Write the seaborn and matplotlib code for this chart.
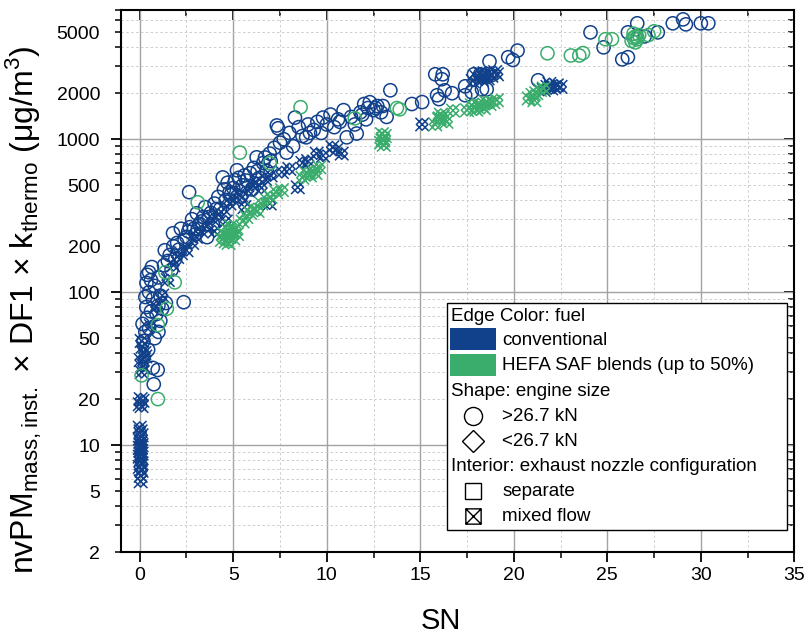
import numpy as np
import pandas as pd
import matplotlib
matplotlib.use("Agg")
import matplotlib.pyplot as plt
from matplotlib.path import Path
from matplotlib.patches import Rectangle
from matplotlib.ticker import FixedLocator, FuncFormatter, NullFormatter
import seaborn as sns

# ---- data (SN, mass concentration in ug/m3) ----
conv_sep_sn = [0.2, 0.3, 0.15, 0.4, 0.5, 0.6, 0.35, 0.7, 0.5, 0.8, 0.3, 0.9, 0.75, 0.96, 0.7,
               0.45, 1.0, 1.1, 0.6, 0.4, 0.36, 0.5, 0.65, 1.0, 1.3, 1.5, 1.34, 1.6, 1.8, 2.0,
               1.78, 2.2, 2.35, 1.1, 1.2, 1.4, 1.0, 0.8,
               2.5, 2.64, 2.67, 2.8, 3.05, 3.2, 3.0, 3.4, 3.6, 3.5, 3.8, 4.0, 3.9, 4.2, 4.44,
               4.3, 4.6, 4.8, 4.7, 5.0, 5.2, 5.1, 5.4, 5.5, 5.7, 5.9, 6.0, 6.25, 6.1, 6.4, 6.6,
               6.95, 6.8, 7.0, 7.33, 7.4, 7.2, 7.5, 7.85, 7.7, 8.0, 8.3, 8.2, 8.5, 8.7, 8.9,
               9.0, 9.3, 9.5, 9.8, 9.7, 10.0, 10.2, 10.4, 10.6, 10.9, 11.07, 11.3, 11.6, 11.5,
               11.8, 12.0, 12.2, 12.3, 12.5, 12.1, 12.7, 12.9, 13.0, 13.4, 13.2,
               4.5, 5.3, 6.3, 3.3, 2.9, 9.1, 10.7, 11.9, 12.6,
               2.1, 2.4, 3.1, 3.7, 4.1, 4.9, 5.6, 6.7, 1.7, 1.9, 2.6,
               14.55, 15.1, 15.8, 16.2, 16.15, 15.9, 16.0, 16.3, 16.7, 17.4, 17.4, 17.75, 17.87,
               18.2, 18.3, 18.55, 18.7, 18.45, 18.8, 19.7, 19.95, 20.2, 21.3, 24.1, 24.8, 25.8,
               26.1, 26.1, 26.6, 27.0, 27.7, 28.5, 29.05, 29.2, 30.0, 30.4]
conv_sep_pm = [48, 55, 62, 68, 58, 75, 80, 90, 100, 110, 93, 72, 25, 31, 32,
               42, 82, 95, 120, 130, 115, 135, 146, 125, 150, 160, 188, 175, 200, 210,
               243, 260, 86, 65, 78, 85, 55, 50,
               230, 451, 266, 300, 328, 280, 240, 310, 229, 360, 330, 380, 280, 420, 563,
               350, 400, 450, 520, 480, 627, 540, 420, 500, 537, 600, 470, 762, 650, 560, 700,
               806, 620, 720, 1231, 1180, 880, 950, 818, 1000, 1100, 1386, 900, 1200, 1050, 1030,
               1250, 1150, 1300, 1386, 1100, 1250, 1450, 1200, 1350, 1550, 1030, 1400, 1090, 1250,
               1500, 1700, 1600, 1747, 1550, 1350, 1650, 1500, 1650, 2090, 1400,
               470, 560, 620, 290, 260, 1100, 1300, 1450, 1600,
               190, 220, 260, 310, 350, 440, 580, 760, 140, 165, 250,
               1700, 1750, 2660, 2660, 2470, 1940, 1830, 2090, 2000, 2220, 1940, 2030, 2660,
               2660, 2120, 2120, 3230, 2620, 2620, 3440, 3300, 3800, 2430, 5000, 3990, 3330,
               3440, 5000, 5730, 4710, 5000, 5730, 6080, 5640, 5730, 5730]

conv_mix_sn = [0.05, 0.05, 0.1, 0.0, 0.1, 0.05, 0.0, 0.1, 0.05, 0.0, 0.1, 0.05, 0.0, 0.1, 0.05, 0.0,
               0.0, 0.15, 0.1, 0.05, 0.1, 0.2, 0.05, 0.25, 0.15, 0.3, 0.1,
               0.6, 0.9, 1.2, 1.5, 1.8, 2.0, 2.5, 2.2,
               2.8, 3.0, 3.3, 3.6, 3.9, 4.2, 4.5, 4.8, 5.2, 5.0, 5.5, 5.8, 6.0, 6.25, 6.5, 6.95,
               6.7, 7.0, 7.6, 8.0, 8.45, 8.7, 9.0, 9.46, 9.8, 10.3, 10.8, 10.5, 4.0, 4.6, 5.6,
               15.1, 17.8, 18.0, 18.2, 18.45, 18.6, 18.8, 19.0, 19.1, 18.3,
               21.6, 21.8, 22.0, 22.15, 22.3, 22.5, 21.9]
conv_mix_pm = [5.8, 6.3, 6.8, 7.2, 7.6, 8.0, 8.4, 8.8, 9.2, 9.6, 10.0, 10.5, 11.0, 11.6, 12.3, 13.0,
               18.5, 19.5, 18.0, 20.0, 30, 33, 36, 40, 44, 38, 48,
               60, 80, 95, 120, 150, 170, 188, 180,
               210, 230, 250, 270, 300, 320, 350, 380, 444, 400, 420, 460, 500, 521, 480, 380,
               550, 580, 610, 640, 485, 700, 720, 806, 780, 887, 806, 850, 250, 290, 360,
               1250, 2400, 2550, 2700, 2700, 2500, 2600, 2750, 2660, 2450,
               2100, 2200, 2150, 2190, 2250, 2200, 2300]

hefa_sep_sn = [0.1, 0.97, 0.97, 1.45, 1.87, 1.37, 3.1, 5.35, 6.95, 8.6, 11.5, 13.75, 13.9,
               21.8, 23.05, 23.5, 23.7, 24.9, 25.25, 26.3, 26.4, 26.5, 26.6, 26.5, 26.7, 26.4,
               26.6, 27.5, 27.2]
hefa_sep_pm = [28.6, 20, 61, 78, 116, 135, 387, 818, 697, 1620, 1370, 1600, 1570,
               3650, 3530, 3530, 3660, 4510, 4510, 4400, 4600, 4700, 4500, 4300, 4800, 4900,
               4640, 5080, 4800]

hefa_mix_sn = [4.4, 4.5, 4.6, 4.7, 4.8, 4.9, 5.0, 5.1, 4.75, 4.85, 4.6, 5.0, 5.2,
               5.5, 5.7, 5.9, 6.1, 6.3, 6.5, 6.8, 7.0, 7.3, 7.6,
               8.7, 8.9, 9.1, 9.3, 9.6, 9.4,
               12.9, 13.0, 13.1, 12.95, 13.05, 13.0,
               15.8, 16.0, 16.05, 16.2, 16.4, 16.1, 16.75,
               17.5, 17.75, 17.9, 18.1, 18.3, 18.5, 18.7, 18.9, 19.1, 18.0, 18.4,
               20.8, 21.0, 21.2, 21.4, 21.6, 21.1]
hefa_mix_pm = [220, 240, 215, 255, 230, 245, 225, 260, 210, 270, 235, 250, 240,
               290, 310, 330, 350, 340, 380, 400, 420, 450, 465,
               560, 600, 580, 620, 655, 600,
               950, 1000, 1050, 1080, 920, 980,
               1250, 1350, 1370, 1400, 1300, 1450, 1540,
               1550, 1670, 1600, 1700, 1650, 1750, 1700, 1750, 1800, 1560, 1600,
               1850, 1950, 2000, 2100, 2150, 1800]

x_ticks = [0, 5, 10, 15, 20, 25, 30, 35]
y_labels = [2, 5, 10, 20, 50, 100, 200, 500, 1000, 2000, 5000]

blue = "#12418c"
green = "#3aad6d"

# diamond with a cross through it (mixed-flow marker)
mixed_marker = Path(
    [(0, -0.85), (0.85, 0), (0, 0.85), (-0.85, 0), (0, -0.85),
     (-1, -1), (1, 1), (-1, 1), (1, -1)],
    [Path.MOVETO, Path.LINETO, Path.LINETO, Path.LINETO, Path.CLOSEPOLY,
     Path.MOVETO, Path.LINETO, Path.MOVETO, Path.LINETO])
boxed_cross = Path(
    [(-1, -1), (1, -1), (1, 1), (-1, 1), (-1, -1),
     (-1, -1), (1, 1), (-1, 1), (1, -1)],
    [Path.MOVETO, Path.LINETO, Path.LINETO, Path.LINETO, Path.CLOSEPOLY,
     Path.MOVETO, Path.LINETO, Path.MOVETO, Path.LINETO])

df = pd.concat([
    pd.DataFrame({"SN": conv_sep_sn, "pm": conv_sep_pm, "fuel": "conventional", "nozzle": "separate"}),
    pd.DataFrame({"SN": conv_mix_sn, "pm": conv_mix_pm, "fuel": "conventional", "nozzle": "mixed"}),
    pd.DataFrame({"SN": hefa_sep_sn, "pm": hefa_sep_pm, "fuel": "HEFA", "nozzle": "separate"}),
    pd.DataFrame({"SN": hefa_mix_sn, "pm": hefa_mix_pm, "fuel": "HEFA", "nozzle": "mixed"}),
], ignore_index=True)

sns.set_style("ticks")
plt.rcParams["font.family"] = ["Liberation Sans", "DejaVu Sans"]
plt.rcParams["mathtext.fontset"] = "custom"
plt.rcParams["mathtext.rm"] = "Liberation Sans"
plt.rcParams["text.color"] = "black"
plt.rcParams["axes.labelcolor"] = "black"

fig = plt.figure(figsize=(8.09, 6.34), dpi=100)
ax = fig.add_axes([0.1496, 0.1293, 0.8323, 0.8549])

colors = {"conventional": blue, "HEFA": green}
markers = {"separate": "o", "mixed": mixed_marker}
sizes = {"separate": 90, "mixed": 95}
for fuel in ["conventional", "HEFA"]:
    for nozzle in ["separate", "mixed"]:
        sub = df[(df.fuel == fuel) & (df.nozzle == nozzle)]
        sns.scatterplot(data=sub, x="SN", y="pm", ax=ax, marker=markers[nozzle],
                        s=sizes[nozzle], facecolors="none", edgecolor=colors[fuel],
                        color=colors[fuel], linewidth=1.1, legend=False, zorder=3)

ax.set_yscale("log")
ax.set_xlim(-1, 35)
ax.set_ylim(2, 7000)

# ticks
minor_x = [2.5, 7.5, 12.5, 17.5, 22.5, 27.5, 32.5]
ax.xaxis.set_major_locator(FixedLocator(x_ticks))
ax.xaxis.set_minor_locator(FixedLocator(minor_x))
ax.yaxis.set_major_locator(FixedLocator([10, 100, 1000]))
minor_y = [m * 10 ** e for e in range(0, 4) for m in range(2, 10) if 2 <= m * 10 ** e <= 7000]
ax.yaxis.set_minor_locator(FixedLocator(minor_y))
ax.yaxis.set_major_formatter(FuncFormatter(lambda v, p: f"{v:g}"))
ax.yaxis.set_minor_formatter(FuncFormatter(lambda v, p: f"{v:g}" if round(v) in y_labels else ""))
ax.tick_params(axis="both", which="major", direction="out", length=7, width=1.3,
               labelsize=14, color="black", labelcolor="black")
ax.tick_params(axis="both", which="minor", direction="out", length=4, width=1.1,
               labelsize=14, color="black", labelcolor="black")
ax.tick_params(axis="y", which="major", pad=8)
ax.tick_params(axis="y", which="minor", pad=11)

top = ax.secondary_xaxis("top")
top.xaxis.set_major_locator(FixedLocator(x_ticks))
top.xaxis.set_minor_locator(FixedLocator(minor_x))
top.tick_params(which="major", direction="in", length=7, width=1.3, labeltop=False, color="black")
top.tick_params(which="minor", direction="in", length=4, width=1.1, color="black")
right = ax.secondary_yaxis("right")
right.yaxis.set_major_locator(FixedLocator([10, 100, 1000]))
right.yaxis.set_minor_locator(FixedLocator(minor_y))
right.yaxis.set_major_formatter(NullFormatter())
right.yaxis.set_minor_formatter(NullFormatter())
right.tick_params(which="major", direction="in", length=7, width=1.3, labelright=False, color="black")
right.tick_params(which="minor", direction="in", length=4, width=1.1, color="black")
for sec in (top, right):
    for sp in sec.spines.values():
        sp.set_visible(False)

# grid
ax.grid(which="major", color="#a3a3a3", linewidth=1.0, linestyle="-", zorder=0)
ax.grid(which="minor", color="#cdcdcd", linewidth=0.7, linestyle=(0, (2.5, 2.5)), zorder=0)
ax.set_axisbelow(True)
for sp in ax.spines.values():
    sp.set_linewidth(1.5)
    sp.set_color("black")

ax.set_xlabel("SN", fontsize=21)
ax.set_ylabel(r"nvPM$_\mathregular{mass,inst.}$ × DF1 × k$_\mathregular{thermo}$ (μg/m$^\mathregular{3}$)",
              fontsize=23)
ax.xaxis.set_label_coords(0.475, -0.102)
ax.yaxis.set_label_coords(-0.115, 0.447)

# hand-built legend box
T = ax.transAxes
ax.add_patch(Rectangle((0.4844, 0.0406), 0.5052, 0.4188, transform=T, facecolor="white",
                       edgecolor="black", linewidth=1.0, zorder=5))
fs = 13.5
def ay(py):
    return (552 - py) / 542
def axx(px):
    return (px - 121) / 673
tx_head = axx(451)
tx_lab = axx(502)
ax.text(tx_head, ay(316), "Edge Color: fuel", transform=T, fontsize=fs, va="center", zorder=6)
ax.add_patch(Rectangle((axx(450), ay(350)), axx(496) - axx(450), ay(328) - ay(350), transform=T,
                       facecolor=blue, edgecolor="none", zorder=6))
ax.text(tx_lab, ay(340), "conventional", transform=T, fontsize=fs, va="center", zorder=6)
ax.add_patch(Rectangle((axx(450), ay(376)), axx(496) - axx(450), ay(354) - ay(376), transform=T,
                       facecolor=green, edgecolor="none", zorder=6))
ax.text(tx_lab, ay(365), "HEFA SAF blends (up to 50%)", transform=T, fontsize=fs, va="center", zorder=6)
ax.text(tx_head, ay(391), "Shape: engine size", transform=T, fontsize=fs, va="center", zorder=6)
ax.plot([axx(473)], [ay(416)], transform=T, marker="o", ms=13, mfc="none", mec="black", mew=1.0, zorder=6)
ax.text(tx_lab, ay(416), ">26.7 kN", transform=T, fontsize=fs, va="center", zorder=6)
ax.plot([axx(473)], [ay(441)], transform=T, marker="D", ms=11, mfc="none", mec="black", mew=1.0, zorder=6)
ax.text(tx_lab, ay(441), "<26.7 kN", transform=T, fontsize=fs, va="center", zorder=6)
ax.text(tx_head, ay(466), "Interior: exhaust nozzle configuration", transform=T, fontsize=fs,
        va="center", zorder=6)
ax.plot([axx(473)], [ay(491)], transform=T, marker="s", ms=11, mfc="none", mec="black", mew=1.0, zorder=6)
ax.text(tx_lab, ay(491), "separate", transform=T, fontsize=fs, va="center", zorder=6)
ax.plot([axx(473)], [ay(516)], transform=T, marker=boxed_cross, ms=11, mfc="none", mec="black",
        mew=1.0, zorder=6)
ax.text(tx_lab, ay(516), "mixed flow", transform=T, fontsize=fs, va="center", zorder=6)

ax.set_xlim(-1, 35)
ax.set_ylim(2, 7000)
fig.savefig("out.png", dpi=100)
